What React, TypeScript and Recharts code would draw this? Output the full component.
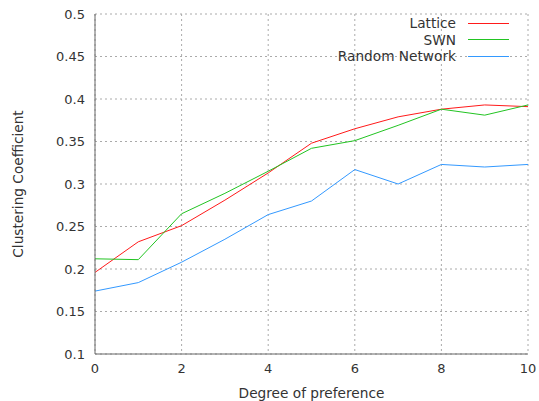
import { LineChart, Line, XAxis, YAxis, CartesianGrid } from 'recharts';

const degrees = [0, 1, 2, 3, 4, 5, 6, 7, 8, 9, 10];
const lattice = [0.196, 0.232, 0.251, 0.281, 0.313, 0.348, 0.365, 0.379, 0.388, 0.393, 0.391];
const swn = [0.212, 0.211, 0.265, 0.289, 0.315, 0.342, 0.351, 0.369, 0.388, 0.381, 0.393];
const randomNet = [0.174, 0.184, 0.208, 0.235, 0.264, 0.28, 0.317, 0.3, 0.323, 0.32, 0.323];

const xTicks = [0, 2, 4, 6, 8, 10];
const yTicks = [0.1, 0.15, 0.2, 0.25, 0.3, 0.35, 0.4, 0.45, 0.5];

const series = [
  { key: 'lattice', name: 'Lattice', color: '#ff1a1a' },
  { key: 'swn', name: 'SWN', color: '#22c422' },
  { key: 'random', name: 'Random Network', color: '#3399ff' },
];

const data = degrees.map((x, i) => ({
  x,
  lattice: lattice[i],
  swn: swn[i],
  random: randomNet[i],
}));

const font = '"DejaVu Sans", sans-serif';
const textColor = '#333';
const frame = '#666';

// gnuplot-style key, top right inside the frame
function KeyBox() {
  return (
    <div style={{ position: 'absolute', top: 15, right: 30, fontFamily: font, fontSize: 13.7, color: textColor }}>
      {series.map((s) => (
        <div key={s.key} style={{ display: 'flex', alignItems: 'center', justifyContent: 'flex-end', height: 16.5 }}>
          <span style={{ lineHeight: '16px', whiteSpace: 'nowrap' }}>{s.name}</span>
          <div style={{ marginLeft: 12, width: 41, height: 0, borderTop: `1px solid ${s.color}` }} />
        </div>
      ))}
    </div>
  );
}

export default function App() {
  return (
    <div style={{ position: 'absolute', left: 0, top: 0, width: 539, height: 401, background: '#fff' }}>
      <LineChart width={539} height={401} data={data} margin={{ top: 14, right: 11, bottom: 0, left: 0 }}>
        <CartesianGrid stroke="#aaa" strokeDasharray="2 3" />
        <XAxis
          dataKey="x"
          type="number"
          domain={[0, 10]}
          ticks={xTicks}
          tickLine={false}
          tickMargin={4}
          axisLine={{ stroke: frame }}
          tick={{ fill: textColor, fontSize: 13, fontFamily: font }}
          height={47}
          label={{ value: 'Degree of preference', position: 'insideBottom', offset: 3, fill: textColor, fontSize: 13.7, fontFamily: font }}
        />
        <XAxis
          xAxisId="top"
          orientation="top"
          type="number"
          domain={[0, 10]}
          ticks={xTicks}
          height={0}
          mirror
          tick={false}
          tickSize={5}
          tickLine={{ stroke: frame }}
          axisLine={{ stroke: frame }}
        />
        <YAxis
          type="number"
          domain={[0.1, 0.5]}
          ticks={yTicks}
          width={95}
          tickLine={false}
          tickMargin={4}
          axisLine={{ stroke: frame }}
          tick={{ fill: textColor, fontSize: 13, fontFamily: font }}
          tickFormatter={(v: number) => String(Number(v.toFixed(2)))}
          label={{
            value: 'Clustering Coefficient',
            angle: -90,
            position: 'insideLeft',
            offset: 18,
            fill: textColor,
            fontSize: 13.7,
            fontFamily: font,
            style: { textAnchor: 'middle' },
          }}
        />
        <YAxis
          yAxisId="right"
          orientation="right"
          type="number"
          domain={[0.1, 0.5]}
          ticks={yTicks}
          width={0}
          mirror
          tick={false}
          tickSize={5}
          tickLine={{ stroke: frame }}
          axisLine={{ stroke: frame }}
        />
        {series.map((s) => (
          <Line
            key={s.key}
            type="linear"
            dataKey={s.key}
            name={s.name}
            stroke={s.color}
            strokeWidth={1}
            dot={false}
            isAnimationActive={false}
          />
        ))}
      </LineChart>
      <KeyBox />
    </div>
  );
}
